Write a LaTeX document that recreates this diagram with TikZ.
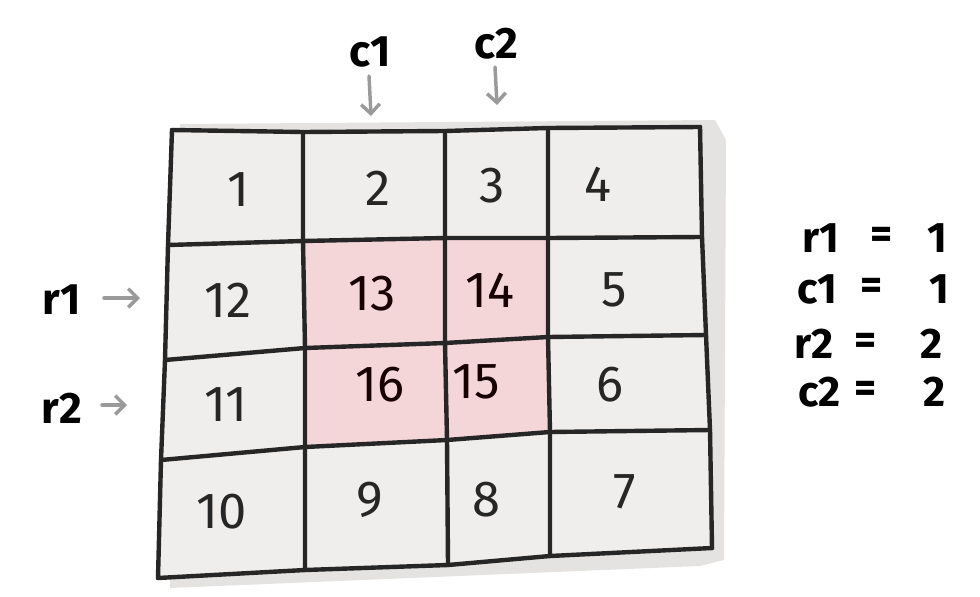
\documentclass[tikz,border=0pt]{standalone}
\usepackage{fontspec}
\setmainfont{Fira Sans}
\usetikzlibrary{arrows.meta}
\definecolor{cellgray}{HTML}{EFEEEC}
\definecolor{shadowgray}{HTML}{E4E3E1}
\definecolor{pinkfill}{HTML}{F5D6D8}
\definecolor{arrowgray}{HTML}{9A9A9A}
\tikzset{
  gridline/.style={line width=3.3pt, line join=round, line cap=round, black!85},
  num/.style={font=\fontsize{38}{40}\selectfont, text=black!85, inner sep=0pt},
  pinknum/.style={num, text=black!70!red!30!black},
  lbl/.style={font=\fontsize{33}{35}\selectfont\bfseries, inner sep=0pt},
  leg/.style={font=\fontsize{32}{34}\selectfont\bfseries, inner sep=0pt},
  garrow/.style={-{Straight Barb[length=7pt,width=14pt]}, line width=2.6pt, arrowgray, line cap=round},
}
\begin{document}
\begin{tikzpicture}[x=0.75pt,y=-0.75pt]
\useasboundingbox (0,0) rectangle (980,596);
% grid points
\coordinate (p00) at (172,130); \coordinate (p01) at (303,132); \coordinate (p02) at (445,131); \coordinate (p03) at (548,128); \coordinate (p04) at (700,127);
\coordinate (p10) at (168,245); \coordinate (p11) at (303,241); \coordinate (p12) at (445,238); \coordinate (p13) at (548,238); \coordinate (p14) at (702,237);
\coordinate (p20) at (165,360); \coordinate (p21) at (305,348); \coordinate (p22) at (445,343); \coordinate (p23) at (548,337); \coordinate (p24) at (706,335);
\coordinate (p30) at (161,460); \coordinate (p31) at (305,447); \coordinate (p32) at (447,440); \coordinate (p33) at (550,432); \coordinate (p34) at (710,430);
\coordinate (p40) at (158,578); \coordinate (p41) at (305,570); \coordinate (p42) at (448,565); \coordinate (p43) at (550,556); \coordinate (p44) at (712,548);
% shadow
\fill[shadowgray] (180,124) -- (715,120) -- (726,140) -- (724,560) -- (700,566) -- (170,588) -- cycle;
% fills
\fill[cellgray] (p00) -- (p04) -- (p44) -- (p40) -- cycle;
\fill[pinkfill] (p11) -- (p13) -- (p33) -- (p31) -- cycle;
% lines
\foreach \r in {0,...,4} {\draw[gridline] (p\r0) -- (p\r1) -- (p\r2) -- (p\r3) -- (p\r4);}
\foreach \c in {0,...,4} {\draw[gridline] (p0\c) -- (p1\c) -- (p2\c) -- (p3\c) -- (p4\c);}
% numbers
\node[num] (n1) at (238,190) {1};
\node[num] (n2) at (378,188) {2};
\node[num] (n3) at (492,186) {3};
\node[num] (n4) at (598,184) {4};
\node[num] (n12) at (228,300) {12};
\node[pinknum] (n13) at (372,294) {13};
\node[pinknum] (n14) at (490,290) {14};
\node[num] (n5) at (614,290) {5};
\node[num] (n11) at (226,405) {11};
\node[pinknum] (n16) at (380,385) {16};
\node[pinknum] (n15) at (476,382) {15};
\node[num] (n6) at (610,385) {6};
\node[num] (n10) at (222,512) {10};
\node[num] (n9) at (370,500) {9};
\node[num] (n8) at (486,500) {8};
\node[num] (n7) at (625,492) {7};
% labels
\node[lbl] (c1) at (370,52) {c1};
\node[lbl] (c2) at (496,44) {c2};
\node[lbl] (r1) at (62,300) {r1};
\node[lbl] (r2) at (62,408) {r2};
\coordinate (c1e) at (371,116);
\coordinate (c2e) at (497,105);
\coordinate (r1e) at (140,298);
\coordinate (r2e) at (127,405);
\draw[garrow] (369,76) -- (c1e);
\draw[garrow] (495,67) -- (c2e);
\draw[garrow] (104,298) -- (r1e);
\draw[garrow] (102,405) -- (r2e);
% legend
\node[leg, anchor=west] (la) at (802,238) {r1};
\node[leg] (ea) at (882,238) {=};
\node[leg] (va) at (937,238) {1};
\node[leg, anchor=west] (lb) at (797,289) {c1};
\node[leg] (eb) at (872,289) {=};
\node[leg] (vb) at (939,289) {1};
\node[leg, anchor=west] (lc) at (794,344) {r2};
\node[leg] (ec) at (866,344) {=};
\node[leg] (vc) at (932,344) {2};
\node[leg, anchor=west] (ld) at (798,392) {c2};
\node[leg] (ed) at (866,392) {=};
\node[leg] (vd) at (935,392) {2};
\end{tikzpicture}
\end{document}
